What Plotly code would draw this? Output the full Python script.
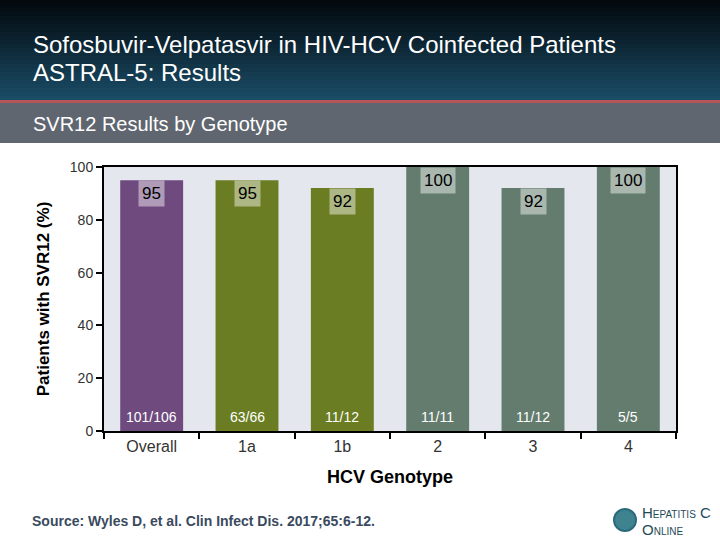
import plotly.graph_objects as go

genotypes = ["Overall", "1a", "1b", "2", "3", "4"]
svr12 = [95, 95, 92, 100, 92, 100]
cured = ["101/106", "63/66", "11/12", "11/11", "11/12", "5/5"]
bar_colors = ["#6e4a7e", "#6a7d22", "#6a7d22", "#647c6e", "#647c6e", "#647c6e"]

fig = go.Figure()
fig.add_trace(go.Bar(x=genotypes, y=svr12, marker=dict(color=bar_colors, line=dict(width=0)),
                     width=0.66, showlegend=False, hoverinfo="skip"))

# value boxes at top of bars and n/N at the bottom (x by category index)
for i, (v, c) in enumerate(zip(svr12, cured)):
    fig.add_annotation(x=i, y=v, text=str(v), showarrow=False, yanchor="top",
                       font=dict(family="Liberation Sans, Arial", size=17, color="black"),
                       bgcolor="rgba(255,255,255,0.45)", borderpad=3)
    fig.add_annotation(x=i, y=0, text=c, showarrow=False, yanchor="bottom", yshift=4,
                       font=dict(family="Liberation Sans, Arial", size=14, color="white"))

L, T, R, B = 104, 167, 676, 431
PW, PH = R - L, B - T


def px(x):
    return (x - L) / PW


def py(y):
    return (B - y) / PH


# header band with a dark gradient
shapes = []
n = 25
for i in range(n):
    f = i / (n - 1)
    r = int(3 + f * (26 - 3))
    g = int(9 + f * (76 - 9))
    b = int(13 + f * (102 - 13))
    shapes.append(dict(type="rect", xref="paper", yref="paper", layer="below",
                       x0=px(0), x1=px(720), y0=py(100 * (i + 1) / n), y1=py(100 * i / n),
                       line=dict(width=0), fillcolor=f"rgb({r},{g},{b})"))
shapes.append(dict(type="rect", xref="paper", yref="paper", layer="below",
                   x0=px(0), x1=px(720), y0=py(103), y1=py(100),
                   line=dict(width=0), fillcolor="#b5565a"))
shapes.append(dict(type="rect", xref="paper", yref="paper", layer="below",
                   x0=px(0), x1=px(720), y0=py(143), y1=py(103),
                   line=dict(width=0), fillcolor="#5f6670"))
# logo circle
shapes.append(dict(type="circle", xref="paper", yref="paper",
                   x0=px(614), x1=px(636), y0=py(531), y1=py(509),
                   line=dict(color="#2b6a7a", width=2), fillcolor="#3f8391"))

fig.update_layout(
    width=720, height=540,
    margin=dict(l=L, r=720 - R, t=T, b=540 - B),
    paper_bgcolor="white", plot_bgcolor="#e4e8ee",
    font=dict(family="Liberation Sans, Arial", color="#222"),
    bargap=0.34,
    shapes=shapes,
)

fig.update_yaxes(range=[0, 100], tickvals=[0, 20, 40, 60, 80, 100], ticks="outside", ticklen=6,
                 tickwidth=2, tickcolor="black", showgrid=False, zeroline=False,
                 showline=True, linecolor="black", linewidth=2, mirror=True,
                 tickfont=dict(size=14, color="#333"),
                 title=dict(text="<b>Patients with SVR12 (%)</b>", font=dict(size=17, color="black"), standoff=16))
fig.update_xaxes(type="category", tickson="boundaries", ticks="outside", ticklen=6, tickwidth=2,
                 tickcolor="black", showline=True, linecolor="black", linewidth=2, mirror=True,
                 tickfont=dict(size=16, color="#333"),
                 title=dict(text="<b>HCV Genotype</b>", font=dict(size=18, color="black"), standoff=16))

# header texts
fig.add_annotation(xref="paper", yref="paper", x=px(31), y=py(45),
                   xanchor="left", yanchor="middle", showarrow=False,
                   text="Sofosbuvir-Velpatasvir in HIV-HCV Coinfected Patients",
                   font=dict(size=24, color="white"))
fig.add_annotation(xref="paper", yref="paper", x=px(31), y=py(72),
                   xanchor="left", yanchor="middle", showarrow=False,
                   text="ASTRAL-5: Results", font=dict(size=24, color="white"))
fig.add_annotation(xref="paper", yref="paper", x=px(31), y=py(124),
                   xanchor="left", yanchor="middle", showarrow=False,
                   text="SVR12 Results by Genotype", font=dict(size=20, color="white"))
# source
fig.add_annotation(xref="paper", yref="paper", x=px(30), y=py(521),
                   xanchor="left", yanchor="middle", showarrow=False,
                   text="<b>Source: Wyles D, et al. Clin Infect Dis. 2017;65:6-12.</b>",
                   font=dict(size=14, color="#3a4a5e"))
# logo text
fig.add_annotation(xref="paper", yref="paper", x=px(640), y=py(512),
                   xanchor="left", yanchor="middle", showarrow=False,
                   text="H<span style='font-size:10px'>EPATITIS</span> C",
                   font=dict(size=15, color="#1f4a57"))
fig.add_annotation(xref="paper", yref="paper", x=px(640), y=py(529),
                   xanchor="left", yanchor="middle", showarrow=False,
                   text="O<span style='font-size:10px'>NLINE</span>",
                   font=dict(size=15, color="#1f4a57"))

fig.write_html("out.html", config={"displayModeBar": False},
               post_script="document.body.style.margin='0';")
